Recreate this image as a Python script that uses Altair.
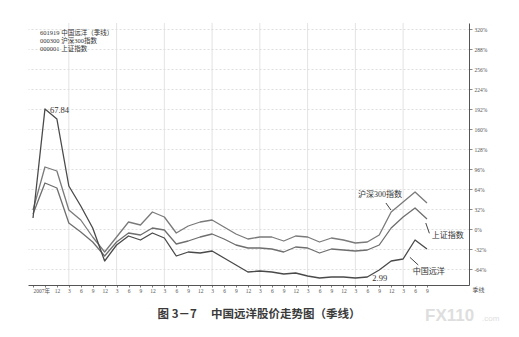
import altair as alt
import pandas as pd

# Quarter-end positions, June 2007 to September 2015
quarter_labels = ["2007年", "", "12", "3", "6", "9", "12", "3", "6", "9",
                  "12", "3", "6", "9", "12", "3", "6", "9", "12", "3",
                  "6", "9", "12", "3", "6", "9", "12", "3", "6", "9",
                  "12", "3", "6", "9"]

# Cumulative change (%) of each series
hs300 = [30.4, 99.2, 92.8, 30.4, 14.4, -12.8, -36.8, -12.8, 11.2, 6.4,
         27.2, 19.2, -6.4, 4.8, 11.2, 14.4, 3.2, -8.0, -16.0, -12.8,
         -12.8, -19.2, -11.2, -12.8, -20.8, -14.4, -17.6, -22.4, -20.8, -9.6,
         27.2, 43.2, 59.2, 41.6]
sh_index = [24.0, 73.6, 65.6, 9.6, -4.8, -20.8, -43.2, -20.8, -6.4, -9.6,
            1.6, -1.6, -24.0, -19.2, -12.8, -8.0, -16.0, -25.6, -30.4, -30.4,
            -32.0, -36.8, -28.8, -30.4, -38.4, -32.0, -33.6, -35.2, -33.6, -25.6,
            1.6, 19.2, 33.6, 16.0]
cosco = [17.6, 192.0, 176.0, 68.8, 36.8, 1.6, -51.2, -25.6, -11.2, -17.6,
         -6.4, -14.4, -43.2, -36.8, -38.4, -35.2, -46.4, -57.6, -68.8, -67.2,
         -68.8, -72.0, -70.4, -75.2, -78.4, -76.8, -76.8, -78.4, -76.8, -65.6,
         -51.2, -48.0, -17.6, -32.0]

series_names = ["000300 沪深300指数", "000001 上证指数", "601919 中国远洋（季线）"]
series_colors = ["#7a7a7a", "#6e6e6e", "#4a4a4a"]
series_widths = [1.3, 1.3, 2.4]
legend_lines = ["601919 中国远洋（季线）", "000300 沪深300指数", "000001 上证指数"]

y_ticks = [-64, -32, 0, 32, 64, 96, 128, 160, 192, 224, 256, 288, 320]
year_grid = [3, 7, 11, 15, 19, 23, 27, 31]

# Point labels: peak and trough prices of 中国远洋
point_q = [1, 28]
point_pct = [192.0, -76.8]
point_text = ["67.84", "2.99"]

# Series name call-outs and their pointer segments
callout_q = [30.9, 33.4, 31.8]
callout_pct = [54.4, -11.2, -68.8]
callout_text = ["沪深300指数", "上证指数", "中国远洋"]
callout_align = ["right", "left", "left"]
pointer_q = [29.56, 33.2, 32.27]
pointer_pct = [41.6, -6.9, -57.6]
pointer_q2 = [29.98, 32.9, 31.57]
pointer_pct2 = [30.4, 9.6, -45.3]

SERIF = "Liberation Serif, Noto Sans CJK SC"
SANS = "Noto Sans CJK SC"

rows = []
for name, vals in zip(series_names, [hs300, sh_index, cosco]):
    for q, v in enumerate(vals):
        rows.append({"q": q, "pct": v, "series": name})
df = pd.DataFrame(rows)

x_scale = alt.Scale(domain=[-0.42, 36.52], nice=False, zero=False)
y_scale = alt.Scale(domain=[-89.6, 329.6], nice=False, zero=False)

label_expr = "[" + ",".join("'%s'" % s for s in quarter_labels) + "][datum.value]"

x_axis = alt.Axis(
    values=list(range(len(quarter_labels))), labelExpr=label_expr,
    labelOverlap=False, labelFlush=False,
    grid=False, domainColor="#555", domainWidth=1, tickColor="#777",
    tickSize=2, labelFontSize=5.5, labelColor="#555", labelFont=SERIF,
    labelPadding=1, labelAngle=0,
    labelAlign={"condition": {"test": "datum.value == 0", "value": "left"}, "value": "center"},
    title="季线", titleFontSize=6, titleFont=SANS, titleFontWeight="normal",
    titleColor="#555", titleX=444, titleY=4, titleAlign="left",
    titleBaseline="middle", titleAnchor="start",
)
y_axis = alt.Axis(
    orient="right", values=y_ticks, labelExpr="datum.value + '%'",
    labelOverlap=False, labelFlush=False,
    grid=True, gridColor="#d6d6d6", gridDash=[2, 2], gridWidth=0.8,
    domainColor="#555", domainWidth=1, tickColor="#888", tickSize=3,
    labelFontSize=5.5, labelColor="#555", labelFont=SERIF, labelPadding=2,
    title=None,
)


def qx(field="q"):
    return alt.X(field + ":Q", scale=x_scale, axis=x_axis)


def py(field="pct"):
    return alt.Y(field + ":Q", scale=y_scale, axis=y_axis)


base = alt.Chart(df).mark_line(strokeJoin="round").encode(
    x=qx(), y=py(),
    color=alt.Color("series:N", scale=alt.Scale(domain=series_names, range=series_colors), legend=None),
    size=alt.Size("series:N", scale=alt.Scale(domain=series_names, range=series_widths), legend=None),
    order=alt.Order("series:N"),
)

grid = alt.Chart(pd.DataFrame({"q": year_grid})).mark_rule(
    color="#dcdcdc", strokeWidth=0.8
).encode(x=qx())

points = alt.Chart(pd.DataFrame({"q": point_q, "pct": point_pct, "t": point_text})).mark_text(
    align="left", baseline="middle", dx=5, dy=1, fontSize=8.5, font=SERIF, color="#333"
).encode(x=qx(), y=py(), text="t:N")

callout_df = pd.DataFrame({"q": callout_q, "pct": callout_pct, "t": callout_text, "a": callout_align})
callouts = []
for align in ["left", "right"]:
    callouts.append(
        alt.Chart(callout_df[callout_df["a"] == align]).mark_text(
            align=align, baseline="middle", fontSize=8, font=SERIF, color="#333"
        ).encode(x=qx(), y=py(), text="t:N")
    )

pointers = alt.Chart(pd.DataFrame({
    "q": pointer_q, "pct": pointer_pct, "q2": pointer_q2, "pct2": pointer_pct2
})).mark_rule(color="#444", strokeWidth=1).encode(
    x=qx(), y=py(), x2="q2:Q", y2="pct2:Q",
)

# Legend block in the top-left corner
legend = [
    alt.Chart(pd.DataFrame({"t": [line]})).mark_text(
        align="left", baseline="middle", fontSize=6.5, font=SERIF, color="#333"
    ).encode(x=alt.value(12), y=alt.value(10 + 8 * i), text="t:N")
    for i, line in enumerate(legend_lines)
]

caption = alt.Chart(pd.DataFrame({"t": ["图 3－7　 中国远洋股价走势图（季线）"]})).mark_text(
    align="center", baseline="middle", fontSize=11.5, font=SANS, fontWeight="bold", color="#3a3a3a"
).encode(x=alt.value(231), y=alt.value(292), text="t:N")

mark_big = alt.Chart(pd.DataFrame({"t": ["FX110"]})).mark_text(
    align="left", baseline="middle", fontSize=17, font="Liberation Sans", fontWeight="bold", color="#dedede"
).encode(x=alt.value(397), y=alt.value(293), text="t:N")
mark_small = alt.Chart(pd.DataFrame({"t": [".com"]})).mark_text(
    align="left", baseline="middle", fontSize=8, font="Liberation Sans", color="#dedede"
).encode(x=alt.value(454), y=alt.value(296), text="t:N")

chart = alt.layer(
    grid, base, points, *callouts, pointers, *legend, caption, mark_big, mark_small
).properties(
    width=441, height=262,
    autosize=alt.AutoSizeParams(type="none"),
    padding={"left": 28, "top": 23, "right": 50, "bottom": 52},
    background="white",
).configure_view(stroke=None)

chart.save("out.html", embed_options={"renderer": "svg", "actions": False})
